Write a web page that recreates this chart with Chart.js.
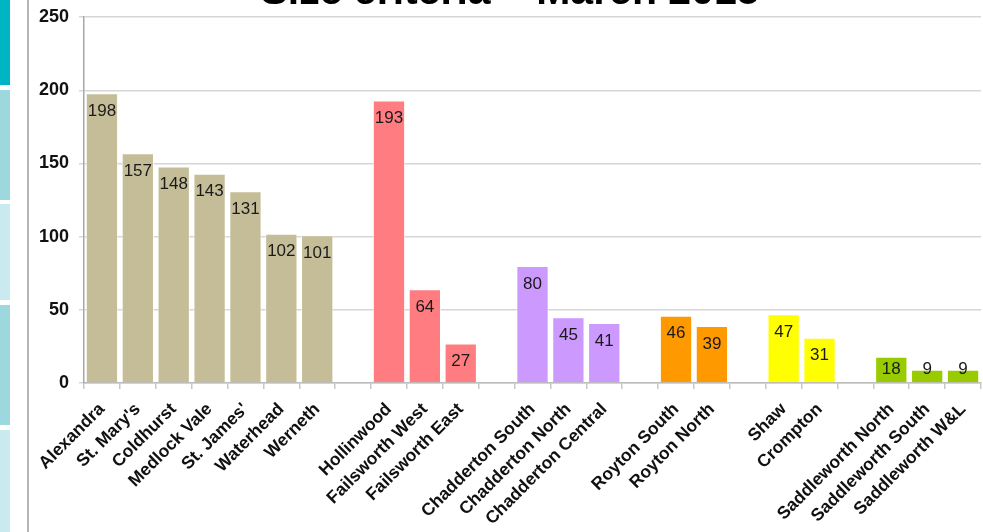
<!DOCTYPE html>
<html>
<head>
<meta charset="utf-8">
<script src="https://cdn.jsdelivr.net/npm/chart.js@4.4.1/dist/chart.umd.min.js"></script>
<style>
  html, body { margin: 0; padding: 0; background: #fff; overflow: hidden; }
  body { width: 983px; height: 532px; position: relative; font-family: Arial, "Liberation Sans", sans-serif; }
  .strip { position: absolute; left: 0; width: 10px; }
  .vline { position: absolute; left: 27px; top: 0; width: 2px; height: 532px; background: #b5b5b5; }
  #wrap { position: absolute; left: 0; top: -32px; width: 983px; height: 564px; }
</style>
</head>
<body>
<div class="strip" style="top:0;height:85px;background:#00b5c3"></div>
<div class="strip" style="top:90px;height:110px;background:#9dd8df"></div>
<div class="strip" style="top:204px;height:96px;background:#c9eaee"></div>
<div class="strip" style="top:305px;height:120px;background:#9dd8df"></div>
<div class="strip" style="top:430px;height:102px;background:#c9eaee"></div>
<div class="vline"></div>
<div id="wrap"><canvas id="myChart"></canvas></div>
<script>
// wards, with empty slots between the districts
var labels = ['Alexandra', "St. Mary's", 'Coldhurst', 'Medlock Vale', "St. James'", 'Waterhead', 'Werneth', '',
  'Hollinwood', 'Failsworth West', 'Failsworth East', '',
  'Chadderton South', 'Chadderton North', 'Chadderton Central', '',
  'Royton South', 'Royton North', '',
  'Shaw', 'Crompton', '',
  'Saddleworth North', 'Saddleworth South', 'Saddleworth W&L'];
var values = [198, 157, 148, 143, 131, 102, 101, null,
  193, 64, 27, null,
  80, 45, 41, null,
  46, 39, null,
  47, 31, null,
  18, 9, 9];
var districts = ['Oldham', 'Oldham', 'Oldham', 'Oldham', 'Oldham', 'Oldham', 'Oldham', '',
  'Failsworth', 'Failsworth', 'Failsworth', '',
  'Chadderton', 'Chadderton', 'Chadderton', '',
  'Royton', 'Royton', '',
  'Shaw', 'Shaw', '',
  'Saddleworth', 'Saddleworth', 'Saddleworth'];
var yTicks = [0, 50, 100, 150, 200, 250];

var districtColours = {
  Oldham: '#c4bd97',
  Failsworth: '#ff7c80',
  Chadderton: '#cc99ff',
  Royton: '#ff9900',
  Shaw: '#ffff00',
  Saddleworth: '#99cc00',
  '': 'rgba(0,0,0,0)'
};

// value written inside the top of each bar
var barValues = {
  id: 'barValues',
  afterDatasetsDraw: function(chart) {
    var c = chart.ctx;
    var meta = chart.getDatasetMeta(0);
    var base = chart.scales.y.getPixelForValue(0);
    c.save();
    c.font = '17px Arial, "Liberation Sans", sans-serif';
    c.fillStyle = '#1a1a1a';
    c.textAlign = 'center';
    c.textBaseline = 'middle';
    meta.data.forEach(function(bar, i) {
      if (values[i] == null) return;
      var y = Math.min(bar.y + 18, base - 14);
      c.fillText(values[i], bar.x, y);
    });
    c.restore();
  }
};

var ctx = document.getElementById('myChart').getContext('2d');
var myChart = new Chart(ctx, {
  type: 'bar',
  data: {
    labels: labels,
    datasets: [{
      data: values,
      backgroundColor: districts.map(function(d) { return districtColours[d]; }),
      borderColor: 'rgba(255,255,255,0.7)',
      borderWidth: 1,
      barPercentage: 0.9,
      categoryPercentage: 1
    }]
  },
  options: {
    responsive: true,
    maintainAspectRatio: false,
    animation: false,
    layout: { padding: { left: 39, right: 2, top: 0, bottom: 0 } },
    plugins: {
      legend: { display: false },
      tooltip: { enabled: false },
      title: {
        display: true,
        text: 'Size criteria \u2013 March 2015',
        color: '#000',
        font: { family: 'Arial, "Liberation Sans", sans-serif', size: 41, weight: 'bold' },
        padding: { top: 0, bottom: 0 }
      }
    },
    scales: {
      x: {
        grid: { drawOnChartArea: false, tickLength: 6, color: '#c8c8c8', lineWidth: 1.5 },
        border: { color: '#bdbdbd', width: 1.5 },
        ticks: {
          autoSkip: false,
          maxRotation: 45,
          minRotation: 45,
          padding: 10,
          color: '#111',
          font: { family: 'Arial, "Liberation Sans", sans-serif', size: 17.5, weight: 'bold' }
        },
        afterFit: function(scale) {
          scale.height = 149;
          scale.paddingRight = 0;
        }
      },
      y: {
        min: 0,
        max: 250,
        afterBuildTicks: function(scale) { scale.ticks = yTicks.map(function(v) { return { value: v }; }); },
        grid: { color: '#d6d6d6', lineWidth: 1.5, tickLength: 5 },
        border: { color: '#a8a8a8', width: 1.5 },
        ticks: {
          padding: 10,
          color: '#111',
          font: { family: 'Arial, "Liberation Sans", sans-serif', size: 18, weight: 'bold' }
        },
        afterFit: function(scale) { scale.width = 45; }
      }
    }
  },
  plugins: [barValues]
});
</script>
</body>
</html>
